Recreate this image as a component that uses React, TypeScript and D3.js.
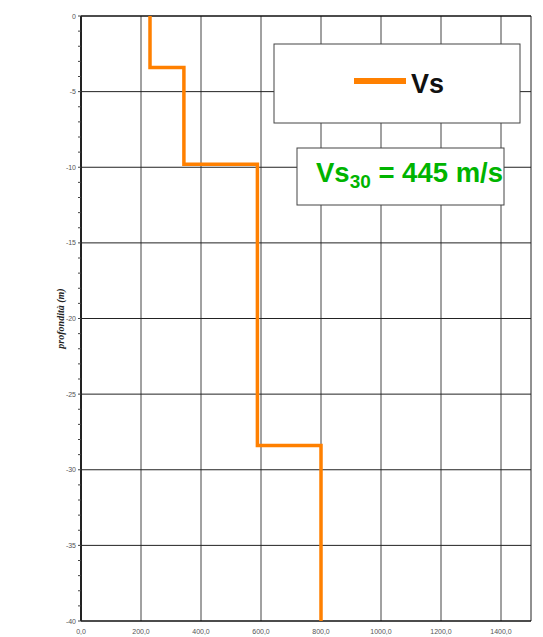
import React from "react";
import * as d3 from "d3";

const depthTops = [0, 3.4, 9.8, 28.4];
const depthBottoms = [3.4, 9.8, 28.4, 40];
const velocities = [230, 343, 588, 800];
const xTicks = [0, 200, 400, 600, 800, 1000, 1200, 1400];
const yTicks = [0, -5, -10, -15, -20, -25, -30, -35, -40];
const seriesName = "Vs";
const vs30Label = "445 m/s";

export default function App() {
  const W = 543, H = 637;
  const m = { l: 81, t: 16, r: 531, b: 621 };
  const x = d3.scaleLinear().domain([0, 1500]).range([m.l, m.r]);
  const y = d3.scaleLinear().domain([0, -40]).range([m.t, m.b]);

  const pts: [number, number][] = [];
  velocities.forEach((v, i) => {
    pts.push([v, -depthTops[i]]);
    pts.push([v, -depthBottoms[i]]);
  });
  const line = d3.line<[number, number]>().x(d => x(d[0])).y(d => y(d[1]));
  const minor = d3.range(0, -41, -1);
  const fmt = (v: number) => v.toFixed(1).replace(".", ",");

  return (
    <svg width={W} height={H} style={{ position: "absolute", left: 0, top: 0, background: "#fff" }}>
      {/* grid */}
      {xTicks.slice(1).map(t => (
        <line key={"gx" + t} x1={x(t)} x2={x(t)} y1={m.t} y2={m.b} stroke="#444" strokeWidth={1} />
      ))}
      {yTicks.slice(1, -1).map(t => (
        <line key={"gy" + t} x1={m.l} x2={m.r} y1={y(t)} y2={y(t)} stroke="#222" strokeWidth={1} />
      ))}
      {/* border */}
      <line x1={m.r} x2={m.r} y1={m.t} y2={m.b} stroke="#222" strokeWidth={1} />
      <line x1={m.l} x2={m.r} y1={m.t} y2={m.t} stroke="#111" strokeWidth={1.5} />
      <line x1={m.l} x2={m.r} y1={m.b} y2={m.b} stroke="#111" strokeWidth={1.5} />
      <line x1={m.l} x2={m.l} y1={m.t} y2={m.b} stroke="#222" strokeWidth={2} />
      {/* minor ticks */}
      {minor.map(t => (
        <line key={"mt" + t} x1={m.l - 3} x2={m.l} y1={y(t)} y2={y(t)} stroke="#444" strokeWidth={1} />
      ))}
      {/* y labels */}
      {yTicks.map(t => (
        <text key={"yl" + t} x={m.l - 5} y={y(t) + 2.5} fontSize={7} fill="#555" textAnchor="end" fontFamily="Liberation Sans, Arial, sans-serif">{t}</text>
      ))}
      {/* x labels */}
      {xTicks.map(t => (
        <text key={"xl" + t} x={x(t)} y={m.b + 13} fontSize={7} fill="#555" textAnchor="middle" fontFamily="Liberation Sans, Arial, sans-serif">{fmt(t)}</text>
      ))}
      {/* y title */}
      <text transform={`translate(64,${(m.t + m.b) / 2}) rotate(-90)`} textAnchor="middle" fontSize={10} fontStyle="italic" fontWeight="bold" fontFamily="Liberation Serif, Times New Roman, serif" fill="#222">profondità (m)</text>
      {/* data */}
      <path d={line(pts) || ""} fill="none" stroke="#ff8000" strokeWidth={3.5} strokeLinejoin="miter" />
      {/* legend */}
      <rect x={274} y={44} width={246} height={79} fill="#fff" stroke="#444" strokeWidth={1} />
      <line x1={354} x2={406} y1={81} y2={81} stroke="#ff8000" strokeWidth={6} />
      <text x={411} y={93} fontSize={27} fontWeight="bold" fontFamily="Liberation Sans, Arial, sans-serif" fill="#111">{seriesName}</text>
      {/* vs30 box */}
      <rect x={297} y={148} width={207} height={57} fill="#fff" stroke="#444" strokeWidth={1} />
      <text x={316} y={182} fontSize={27.5} fontWeight="bold" fontFamily="Liberation Sans, Arial, sans-serif" fill="#00b400">
        Vs<tspan fontSize={19} dy={6}>30</tspan><tspan dy={-6}>{" = " + vs30Label}</tspan>
      </text>
    </svg>
  );
}
